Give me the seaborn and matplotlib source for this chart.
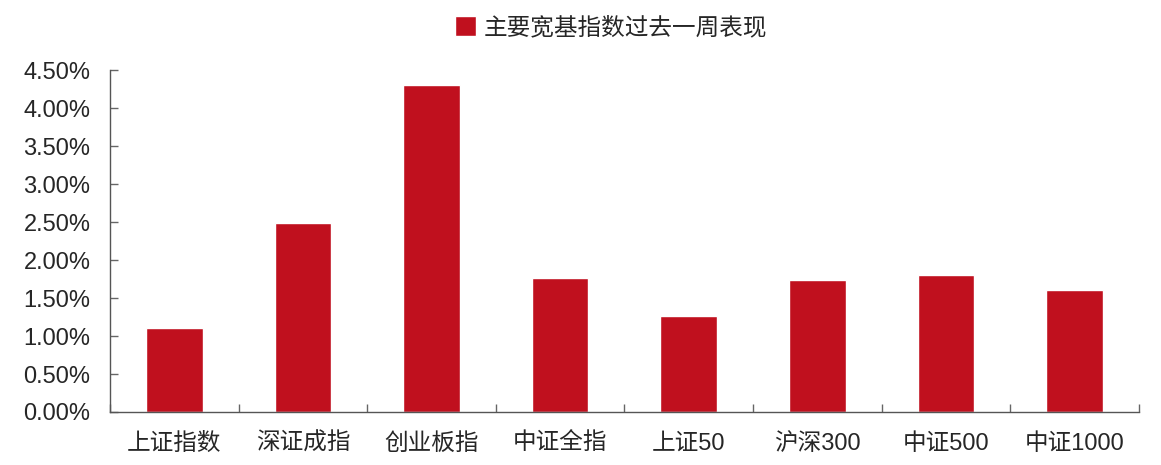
import pandas as pd
import matplotlib.pyplot as plt
import seaborn as sns
from matplotlib.ticker import FuncFormatter, FixedLocator

# data
names = ["上证指数", "深证成指", "创业板指", "中证全指", "上证50", "沪深300", "中证500", "中证1000"]
returns = [1.10, 2.49, 4.30, 1.76, 1.26, 1.74, 1.81, 1.61]  # percent
series_label = "主要宽基指数过去一周表现"

df = pd.DataFrame({"name": names, "ret": returns})

sns.set_style("white")
plt.rcParams["font.family"] = ["Liberation Sans", "Noto Sans CJK SC"]

fig = plt.figure(figsize=(11.61, 4.65), dpi=100)
ax = fig.add_axes([0.0947, 0.114, 0.981 - 0.0947, 0.849 - 0.114])

sns.barplot(data=df, x="name", y="ret", color="#C0101E", saturation=1,
            width=0.44, label=series_label, ax=ax, zorder=1)

ax.set_ylim(0, 4.5)
ax.set_xlim(-0.5, len(names) - 0.5)
ax.set_yticks([i * 0.5 for i in range(10)])
ax.yaxis.set_major_formatter(FuncFormatter(lambda v, p: f"{v:.2f}%"))

# tick marks between categories, labels at centres
ax.xaxis.set_minor_locator(FixedLocator([i + 0.5 for i in range(-1, len(names))]))
ax.tick_params(axis="x", which="major", length=0, pad=15, labelsize=17)
ax.tick_params(axis="x", which="minor", bottom=True, direction="in", length=6,
               width=1, color="#666666")
ax.tick_params(axis="y", left=True, direction="in", length=6, width=1,
               color="#666666", pad=14, labelsize=17)
ax.set_xlabel("")
ax.set_ylabel("")

for s in ["top", "right"]:
    ax.spines[s].set_visible(False)
for s in ["left", "bottom"]:
    ax.spines[s].set_color("#555555")
    ax.spines[s].set_linewidth(1.0)
    ax.spines[s].set_zorder(3)

ax.legend(loc="center", bbox_to_anchor=(0.487, 1.125), frameon=False,
          prop={"family": ["Noto Sans CJK SC"], "size": 17},
          handlelength=0.9, handleheight=0.9, handletextpad=0.3)

fig.savefig("out.png", dpi=100)
